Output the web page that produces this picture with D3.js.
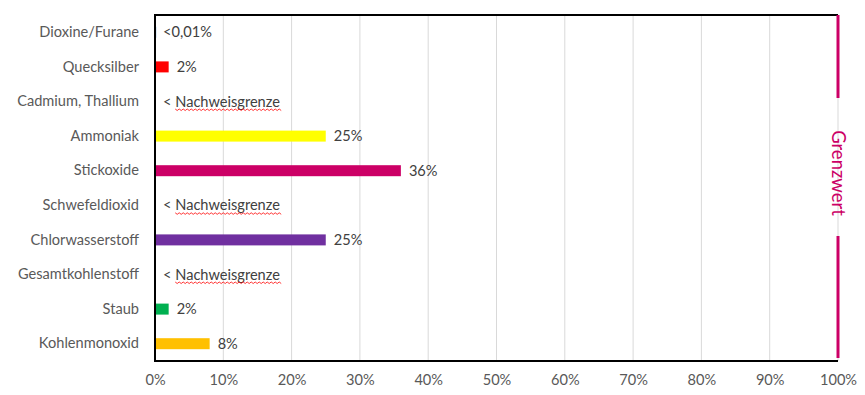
<!DOCTYPE html>
<html><head><meta charset="utf-8">
<script src="https://cdn.jsdelivr.net/npm/d3@7"></script>
<style>body{margin:0;background:#fff}svg{display:block}</style>
</head><body>
<svg id="c" width="865" height="395"></svg>
<script>
const categories = ["Dioxine/Furane","Quecksilber","Cadmium, Thallium","Ammoniak","Stickoxide","Schwefeldioxid","Chlorwasserstoff","Gesamtkohlenstoff","Staub","Kohlenmonoxid"];
const values = [0.0001, 0.02, null, 0.25, 0.36, null, 0.25, null, 0.02, 0.08];
const valueLabels = ["<0,01%","2%","< Nachweisgrenze","25%","36%","< Nachweisgrenze","25%","< Nachweisgrenze","2%","8%"];
const colors = ["#5B9BD5","#FF0000",null,"#FFFF00","#CC0066",null,"#7030A0",null,"#00B050","#FFC000"];
const xTicks = [0,0.1,0.2,0.3,0.4,0.5,0.6,0.7,0.8,0.9,1.0];
const limitValue = 1.0;
const limitLabel = "Grenzwert";

const svg = d3.select("#c");
const m = {l:155, r:838, t:15, b:361};
const x = d3.scaleLinear().domain([0,1]).range([m.l, m.r]);
const y = d3.scaleBand().domain(categories).range([m.t, m.b]);
const font = "Lato, 'Open Sans', sans-serif";
const fs = 14.6;

// gridlines
svg.append("g").selectAll("line").data(xTicks.slice(1)).join("line")
  .attr("x1", d=>x(d)).attr("x2", d=>x(d)).attr("y1", m.t).attr("y2", m.b)
  .attr("stroke", "#d9d9d9").attr("stroke-width", 1);

// x axis
const xa = svg.append("g").attr("transform", `translate(0,${m.b})`)
  .call(d3.axisBottom(x).tickValues(xTicks).tickFormat(d3.format(".0%")).tickSize(0).tickPadding(14));
xa.select(".domain").remove();
xa.selectAll("text").attr("font-family", font).attr("font-size", fs).attr("fill", "#595959");

// y axis
const ya = svg.append("g").attr("transform", `translate(${m.l-16},0)`)
  .call(d3.axisLeft(y).tickSize(0).tickPadding(0));
ya.select(".domain").remove();
ya.selectAll("text").attr("font-family", font).attr("font-size", fs).attr("fill", "#595959");

// bars
const bh = 11;
const rows = categories.map((c,i)=>({c, v:values[i], lab:valueLabels[i], col:colors[i]}));
svg.append("g").selectAll("rect").data(rows.filter(r=>r.v!=null)).join("rect")
  .attr("x", x(0)).attr("y", r=>y(r.c)+y.bandwidth()/2-bh/2)
  .attr("width", r=>Math.max(1.2, x(r.v)-x(0))).attr("height", bh)
  .attr("fill", r=>r.col);

// value labels
const lg = svg.append("g");
rows.forEach(r=>{
  const cy = y(r.c)+y.bandwidth()/2;
  const tx = (r.v==null || r.v<0.005) ? x(0)+8 : x(r.v)+8;
  const t = lg.append("text").attr("x", tx).attr("y", cy).attr("dy","0.35em")
    .attr("font-family", font).attr("font-size", fs).attr("fill", "#404040");
  if (r.v==null) {
    t.append("tspan").text("< ");
    t.append("tspan").text("Nachweisgrenze");
    const node = t.node();
    const start = tx + node.getSubStringLength(0,2);
    const len = node.getSubStringLength(2,14);
    let p = `M${start},${cy+7.5}`;
    for (let xx=start, k=0; xx<start+len; xx+=2, k++) p += `L${xx+2},${cy+7.5+(k%2?0:1.5)}`;
    lg.append("path").attr("d", p).attr("fill","none").attr("stroke","#FF0000").attr("stroke-width",0.8);
  } else {
    t.text(r.lab);
  }
});

// frame
svg.append("line").attr("x1", m.l).attr("x2", m.r).attr("y1", m.t).attr("y2", m.t).attr("stroke","#000").attr("stroke-width",2);
svg.append("line").attr("x1", m.l).attr("x2", m.r).attr("y1", m.b).attr("y2", m.b).attr("stroke","#000").attr("stroke-width",2);
svg.append("line").attr("x1", m.l).attr("x2", m.l).attr("y1", m.t-1).attr("y2", m.b+1).attr("stroke","#000").attr("stroke-width",2);

// limit line
const lx = x(limitValue);
const midY = 173;
svg.append("line").attr("x1", lx).attr("x2", lx).attr("y1", m.t).attr("y2", 98).attr("stroke","#CC0066").attr("stroke-width",3);
svg.append("line").attr("x1", lx).attr("x2", lx).attr("y1", 236).attr("y2", m.b-3).attr("stroke","#CC0066").attr("stroke-width",3);
svg.append("text").attr("transform", `translate(${lx},${midY}) rotate(90)`)
  .attr("text-anchor","middle").attr("dy","0.35em")
  .attr("font-family", font).attr("font-size", 18.5).attr("fill","#CC0066").text(limitLabel);
</script>
</body></html>
